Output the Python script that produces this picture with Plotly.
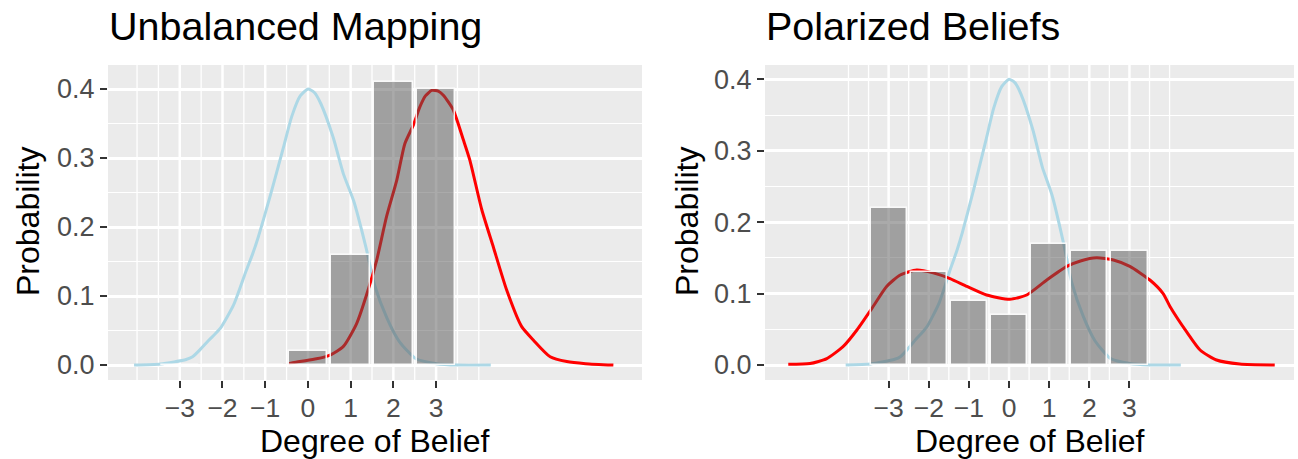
import plotly.graph_objects as go

# ---------------- data ----------------
titles = ["Unbalanced Mapping", "Polarized Beliefs"]
belief_levels = [-3, -2, -1, 0, 1, 2, 3]
tick_text = ["\u22123", "\u22122", "\u22121", "0", "1", "2", "3"]

# bar probabilities
unbalanced_probs = [0.0, 0.0, 0.0, 0.02, 0.16, 0.41, 0.40]
polarized_probs = [0.22, 0.13, 0.09, 0.07, 0.17, 0.16, 0.16]

# light-blue reference density (same in both panels)
ref_x = [-4.07, -3.45, -2.85, -2.70, -2.53, -2.32, -2.14, -2.03, -1.74, -1.45, -1.30, -1.16, -0.87,
         -0.57, -0.38, -0.18, 0.0, 0.15, 0.30, 0.59, 0.83, 1.07, 1.36, 1.56, 1.85, 2.14,
         2.53, 3.01, 3.5, 4.28]
ref_y = [0.0, 0.0015, 0.008, 0.012, 0.022, 0.036, 0.047, 0.055, 0.087, 0.136, 0.160, 0.186, 0.248,
         0.316, 0.360, 0.390, 0.400, 0.395, 0.379, 0.330, 0.277, 0.238, 0.170, 0.116, 0.068, 0.034,
         0.009, 0.002, 0.0, 0.0]

# red densities
unbal_x = [-0.45, -0.19, 0.2, 0.52, 0.83, 1.14, 1.41, 1.61, 1.84, 2.08, 2.27, 2.47,
           2.62, 2.75, 2.90, 3.05, 3.17, 3.40, 3.64, 3.79, 4.07, 4.34, 4.65, 5.00, 5.28, 5.67,
           6.06, 6.5, 7.15]
unbal_y = [0.002, 0.005, 0.009, 0.0145, 0.027, 0.060, 0.109, 0.152, 0.215, 0.268,
           0.321, 0.348, 0.374, 0.390, 0.398, 0.397, 0.391, 0.370, 0.326, 0.297, 0.225, 0.171,
           0.109, 0.056, 0.036, 0.012, 0.005, 0.002, 0.0]

polar_x = [-5.5, -4.96, -4.54, -4.13, -3.79, -3.42, -3.05, -2.71, -2.30, -1.89, -1.47, -1.05,
           -0.56, 0.02, 0.44, 0.94, 1.44, 1.80, 2.18, 2.60, 3.01, 3.51, 3.84, 4.01, 4.43, 4.76,
           5.17, 5.75, 6.62]
polar_y = [0.001, 0.002, 0.009, 0.026, 0.049, 0.079, 0.110, 0.126, 0.133, 0.129, 0.121, 0.110,
           0.098, 0.092, 0.098, 0.119, 0.138, 0.146, 0.150, 0.147, 0.138, 0.119, 0.100, 0.082,
           0.046, 0.021, 0.007, 0.0014, 0.0]

grid_x = [-4 + 0.5 * i for i in range(17)]

# ---------------- styling ----------------
FONT = "Liberation Sans, Arial, Helvetica, sans-serif"
W, H = 1298, 459
panels = [
    dict(px=(108, 642), xr=[-4.68, 7.82], yr=[-0.0217, 0.4348], ytitle_x=28),
    dict(px=(765, 1294), xr=[-6.08, 7.10], yr=[-0.021, 0.420], ytitle_x=687),
]
y_dom = [(H - 380) / H, (H - 65) / H]

fig = go.Figure()
layout = dict(
    width=W, height=H, margin=dict(l=0, r=0, t=0, b=0),
    paper_bgcolor="white", plot_bgcolor="#EBEBEB", showlegend=False,
    font=dict(family=FONT),
)
annotations = []
shapes = []
series = [(unbalanced_probs, unbal_x, unbal_y), (polarized_probs, polar_x, polar_y)]

for i, p in enumerate(panels):
    bx, by = ("x", "y") if i == 0 else ("x2", "y2")
    ox, oy = ("x3", "y3") if i == 0 else ("x4", "y4")
    bxk, byk = ("xaxis", "yaxis") if i == 0 else ("xaxis2", "yaxis2")
    oxk, oyk = ("xaxis3", "yaxis3") if i == 0 else ("xaxis4", "yaxis4")
    dom = [p["px"][0] / W, p["px"][1] / W]
    layout[bxk] = dict(
        domain=dom, range=p["xr"], anchor=by, showgrid=False, zeroline=False,
        tickmode="array", tickvals=belief_levels, ticktext=tick_text,
        ticks="outside", ticklen=7, tickwidth=2, tickcolor="#333333",
        ticklabelstandoff=-3,
        tickfont=dict(size=26.5, color="#4D4D4D", family=FONT), showline=False,
    )
    layout[byk] = dict(
        domain=y_dom, range=p["yr"], anchor=bx, zeroline=False,
        tickmode="array", tickvals=[0, 0.1, 0.2, 0.3, 0.4],
        ticktext=["0.0", "0.1", "0.2", "0.3", "0.4"],
        ticks="outside", ticklen=7, tickwidth=2, tickcolor="#333333",
        tickfont=dict(size=27, color="#4D4D4D", family=FONT),
        showgrid=True, gridcolor="white", gridwidth=2.5,
        minor=dict(tickmode="array", tickvals=[0.05, 0.15, 0.25, 0.35],
                   showgrid=True, gridcolor="white", gridwidth=1.3, ticks=""),
    )
    layout[oxk] = dict(overlaying=bx, range=p["xr"], anchor=oy, showgrid=False,
                       zeroline=False, showticklabels=False, ticks="", showline=False)
    layout[oyk] = dict(overlaying=by, range=p["yr"], anchor=ox, showgrid=False,
                       zeroline=False, showticklabels=False, ticks="", showline=False)

    for g in grid_x:
        major = float(g).is_integer() and abs(g) < 4
        shapes.append(dict(type="line", xref=bx, yref=f"{by} domain", x0=g, x1=g, y0=0, y1=1,
                           line=dict(color="white", width=2.5 if major else 1.3), layer="below"))

    probs, rx, ry = series[i]
    fig.add_trace(go.Scatter(x=ref_x, y=ref_y, mode="lines", xaxis=bx, yaxis=by,
                             line=dict(color="#ADD8E6", width=3, shape="spline", smoothing=0.6),
                             hoverinfo="skip"))
    fig.add_trace(go.Scatter(x=rx, y=ry, mode="lines", xaxis=bx, yaxis=by,
                             line=dict(color="#FF0000", width=3, shape="spline", smoothing=0.6),
                             hoverinfo="skip"))
    fig.add_trace(go.Bar(x=belief_levels, y=probs, width=0.9, xaxis=ox, yaxis=oy,
                         marker=dict(color="rgba(85,85,85,0.5)",
                                     line=dict(color="rgba(255,255,255,0.9)", width=1.5)),
                         hoverinfo="skip"))

    annotations.append(dict(text=titles[i], xref="paper", yref="paper",
                            x=p["px"][0] / W - 0.001, y=(H - 26) / H, xanchor="left", yanchor="middle",
                            showarrow=False, font=dict(size=39.5, color="black", family=FONT)))
    annotations.append(dict(text="Degree of Belief", xref="paper", yref="paper",
                            x=(p["px"][0] + p["px"][1]) / 2 / W, y=(H - 441) / H,
                            xanchor="center", yanchor="middle", showarrow=False,
                            font=dict(size=32, color="black", family=FONT)))
    annotations.append(dict(text="Probability", xref="paper", yref="paper",
                            x=p["ytitle_x"] / W, y=(H - 222) / H, textangle=-90,
                            xanchor="center", yanchor="middle", showarrow=False,
                            font=dict(size=32, color="black", family=FONT)))

layout["annotations"] = annotations
layout["shapes"] = shapes
layout["bargap"] = 0
fig.update_layout(**layout)
fig.write_html("out.html")
